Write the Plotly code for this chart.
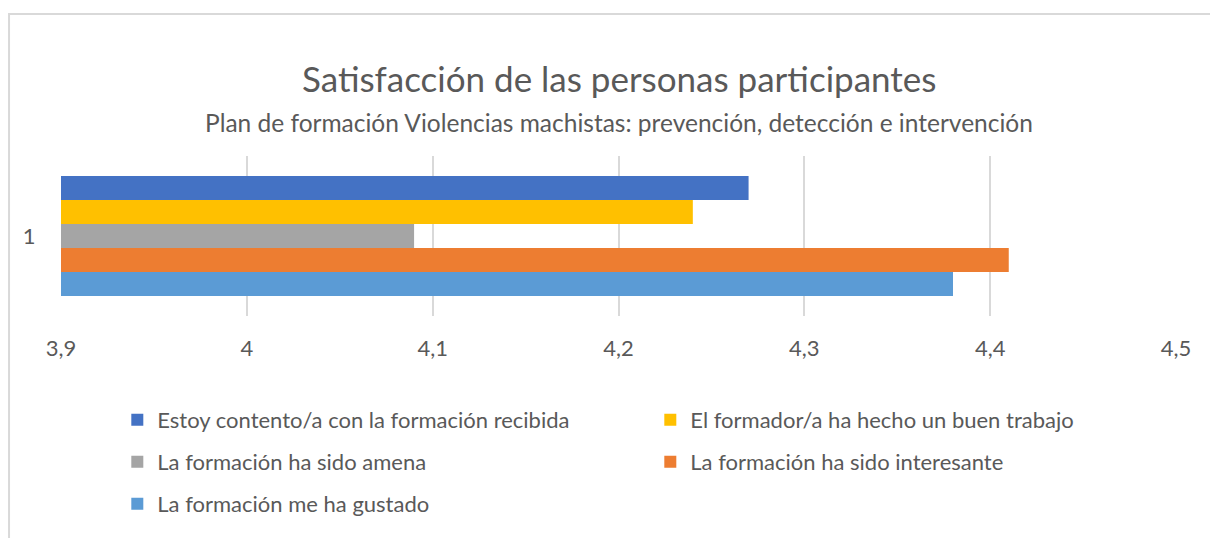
import plotly.graph_objects as go

categoria = ["1"]
series = [
    "Estoy contento/a con la formación recibida",
    "El formador/a ha hecho un buen trabajo",
    "La formación ha sido amena",
    "La formación ha sido interesante",
    "La formación me ha gustado",
]
valores = [4.27, 4.24, 4.09, 4.41, 4.38]
colores = ["#4472C4", "#FFC000", "#A5A5A5", "#ED7D31", "#5B9BD5"]
# fila de la leyenda en la que va cada serie (2 columnas, como en Excel)
leyenda_fila = ["legend", "legend", "legend2", "legend2", "legend3"]
ticks_x = [3.9, 4.0, 4.1, 4.2, 4.3, 4.4, 4.5]
etiquetas_x = ["3,9", "4", "4,1", "4,2", "4,3", "4,4", "4,5"]

fuente = "Lato"
gris = "#595959"

fig = go.Figure()
for nombre, valor, color, ley in zip(series, valores, colores, leyenda_fila):
    fig.add_trace(go.Bar(
        y=categoria, x=[valor], name=nombre, orientation="h",
        marker=dict(color=color, line=dict(width=0)),
        legend=ley,
    ))

# la página añade 8px de margen al body, así que los márgenes van 8px más cortos
estilo_leyenda = dict(orientation="h", x=0.0505, xanchor="left", yanchor="middle",
                      entrywidth=488, entrywidthmode="pixels", itemwidth=30,
                      font=dict(size=22, color=gris, family=fuente),
                      bgcolor="rgba(0,0,0,0)")

fig.update_layout(
    width=1218, height=538,
    margin=dict(l=53, r=50, t=148, b=230, autoexpand=False),
    paper_bgcolor="white", plot_bgcolor="white",
    font=dict(family=fuente, color=gris, size=18),
    barmode="group", bargap=0.25, bargroupgap=0,
    separators=",.",
    xaxis=dict(range=[3.9, 4.5], tickvals=ticks_x, ticktext=etiquetas_x,
               showgrid=True, gridcolor="#D9D9D9", gridwidth=2,
               zeroline=False, showline=False, automargin=False,
               ticks="outside", ticklen=13, tickcolor="rgba(0,0,0,0)",
               tickfont=dict(size=22, color=gris)),
    yaxis=dict(autorange="reversed", showgrid=False, zeroline=False, automargin=False,
               ticks="outside", ticklen=20, tickcolor="rgba(0,0,0,0)",
               tickfont=dict(size=22, color=gris)),
    legend=dict(estilo_leyenda, y=-0.65),
    legend2=dict(estilo_leyenda, y=-0.9125),
    legend3=dict(estilo_leyenda, y=-1.175),
    annotations=[
        dict(text="Satisfacción de las personas participantes", x=0.5, y=1.4875,
             xref="paper", yref="paper", showarrow=False, yanchor="middle",
             font=dict(size=35, color=gris, family=fuente)),
        dict(text="Plan de formación Violencias machistas: prevención, detección e intervención",
             x=0.5, y=1.2125, xref="paper", yref="paper", showarrow=False, yanchor="middle",
             font=dict(size=24.5, color=gris, family=fuente)),
    ],
    shapes=[
        dict(type="rect", xref="paper", yref="paper", x0=-0.0466, x1=1.2,
             y0=-2.0, y1=1.8875, line=dict(color="#D9D9D9", width=2), layer="below"),
    ],
)

fig.write_html("out.html")
